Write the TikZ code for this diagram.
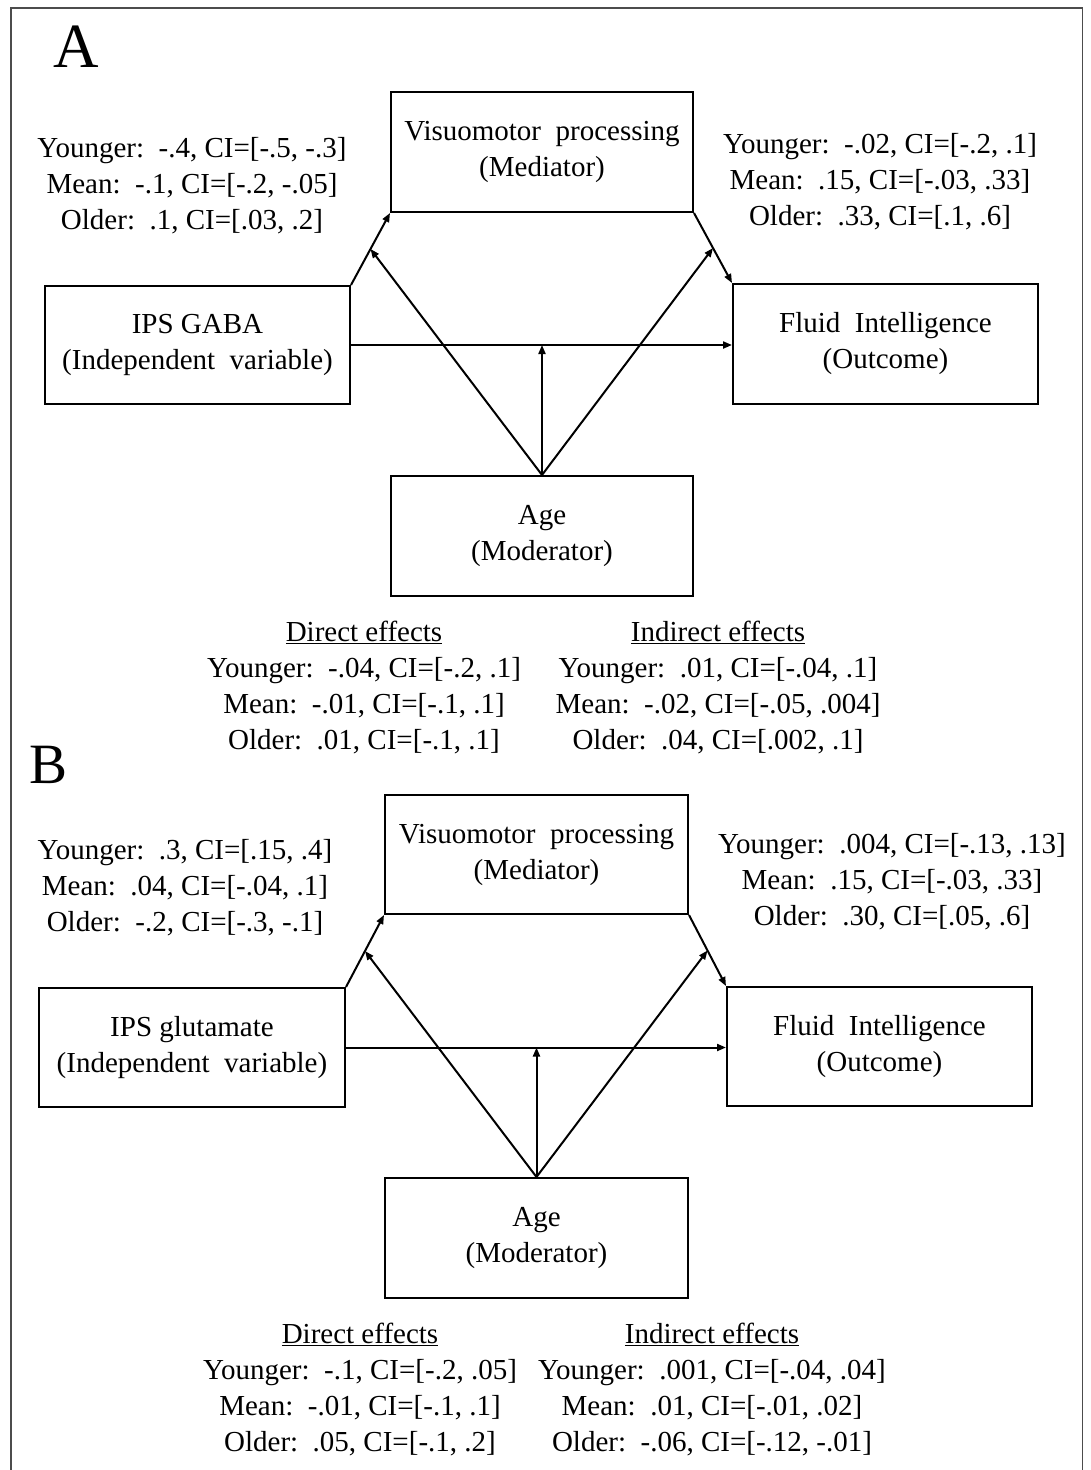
\documentclass[tikz,border=0pt]{standalone}
\usepackage{fontspec}
\setmainfont{Liberation Serif}
\usetikzlibrary{arrows.meta,calc}
\begin{document}
\begin{tikzpicture}[x=1pt,y=-1pt,
  box/.style={draw, line width=2pt, minimum width=303pt, minimum height=120pt, align=center, inner sep=0pt, font=\fontsize{29}{36}\selectfont},
  lbl/.style={align=center, inner sep=0pt, font=\fontsize{29}{36}\selectfont},
  conn/.style={line width=2pt, -{Triangle[length=9pt,width=7pt]}},
  panel/.style={anchor=base, inner sep=0pt},
  ]
\useasboundingbox (0,0) rectangle (1090,1470);
\fill[white] (0,0) rectangle (1090,1470);
\draw[line width=1.3pt, black!70] (11,1470) -- (11,8) -- (1082.5,8) -- (1082.5,1470);

% ---------------- Panel A ----------------
\node[panel, font=\fontsize{63}{70}\selectfont] (pa) at (76,67) {A};

\node[box, minimum width=302pt, minimum height=120pt] (va) at (542,152) {Visuomotor~~processing\\(Mediator)};
\node[box, minimum width=305pt, minimum height=118pt] (ia) at (197.5,345) {IPS GABA\\(Independent~~variable)};
\node[box, minimum width=305pt, minimum height=120pt] (fa) at (885.5,344) {Fluid~~Intelligence\\(Outcome)};
\node[box, minimum width=302pt, minimum height=120pt] (aa) at (542,536) {Age\\(Moderator)};

\node[lbl] (la) at (192,186) {Younger:~~-.4, CI=[-.5, -.3]\\Mean:~~-.1, CI=[-.2, -.05]\\Older:~~.1, CI=[.03, .2]};
\node[lbl] (ra) at (880,182) {Younger:~~-.02, CI=[-.2, .1]\\Mean:~~.15, CI=[-.03, .33]\\Older:~~.33, CI=[.1, .6]};
\node[lbl] (da) at (364,688) {\underline{Direct effects}\\Younger:~~-.04, CI=[-.2, .1]\\Mean:~~-.01, CI=[-.1, .1]\\Older:~~.01, CI=[-.1, .1]};
\node[lbl] (na) at (718,688) {\underline{Indirect effects}\\Younger:~~.01, CI=[-.04, .1]\\Mean:~~-.02, CI=[-.05, .004]\\Older:~~.04, CI=[.002, .1]};

\draw[conn] (ia.north east) -- (va.south west);
\draw[conn] (va.south east) -- (fa.north west);
\draw[conn] (ia.east) -- (ia.east -| fa.west);
\draw[conn] (aa.north) -- (aa.north |- ia.east);
\draw[conn] (aa.north) -- ($(ia.north east)!0.5!(va.south west)$);
\draw[conn] (aa.north) -- ($(va.south east)!0.5!(fa.north west)$);

% ---------------- Panel B ----------------
\node[panel, font=\fontsize{57}{64}\selectfont] (pb) at (49,783) {B};

\node[box, minimum width=303pt, minimum height=119pt] (vb) at (536.5,854.5) {Visuomotor~~processing\\(Mediator)};
\node[box, minimum width=306pt, minimum height=119pt] (ib) at (192,1047.5) {IPS glutamate\\(Independent~~variable)};
\node[box, minimum width=305pt, minimum height=119pt] (fb) at (879.5,1046.5) {Fluid~~Intelligence\\(Outcome)};
\node[box, minimum width=303pt, minimum height=120pt] (ab) at (536.5,1238) {Age\\(Moderator)};

\node[lbl] (lb) at (185,888) {Younger:~~.3, CI=[.15, .4]\\Mean:~~.04, CI=[-.04, .1]\\Older:~~-.2, CI=[-.3, -.1]};
\node[lbl] (rb) at (892,882) {Younger:~~.004, CI=[-.13, .13]\\Mean:~~.15, CI=[-.03, .33]\\Older:~~.30, CI=[.05, .6]};
\node[lbl] (db) at (360,1390) {\underline{Direct effects}\\Younger:~~-.1, CI=[-.2, .05]\\Mean:~~-.01, CI=[-.1, .1]\\Older:~~.05, CI=[-.1, .2]};
\node[lbl] (nb) at (712,1390) {\underline{Indirect effects}\\Younger:~~.001, CI=[-.04, .04]\\Mean:~~.01, CI=[-.01, .02]\\Older:~~-.06, CI=[-.12, -.01]};

\draw[conn] (ib.north east) -- (vb.south west);
\draw[conn] (vb.south east) -- (fb.north west);
\draw[conn] (ib.east) -- (ib.east -| fb.west);
\draw[conn] (ab.north) -- (ab.north |- ib.east);
\draw[conn] (ab.north) -- ($(ib.north east)!0.5!(vb.south west)$);
\draw[conn] (ab.north) -- ($(vb.south east)!0.5!(fb.north west)$);
\end{tikzpicture}
\end{document}
